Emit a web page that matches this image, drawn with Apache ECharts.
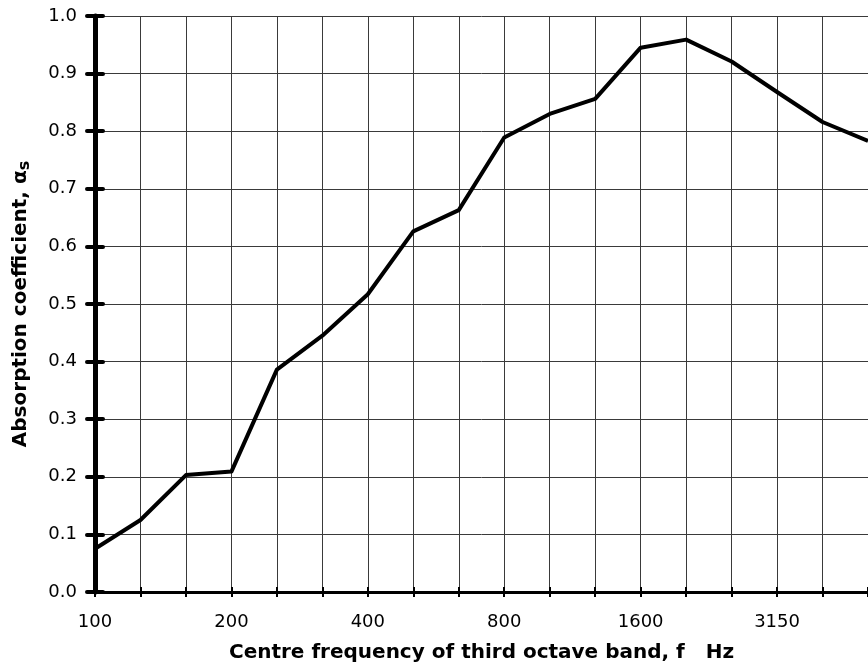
<!DOCTYPE html>
<html>
<head>
<meta charset="utf-8">
<script src="https://cdn.jsdelivr.net/npm/echarts@6/dist/echarts.min.js"></script>
<style>
html, body { margin: 0; padding: 0; background: #fff; }
#chart { width: 868px; height: 668px; }
</style>
</head>
<body>
<div id="chart"></div>
<script>
// third octave band centre frequencies
var bands = ['100', '125', '160', '200', '250', '315', '400', '500', '630', '800',
	'1000', '1250', '1600', '2000', '2500', '3150', '4000', '5000'];
// absorption coefficient per band
var alphaS = [0.075, 0.125, 0.203, 0.209, 0.386, 0.445, 0.517, 0.626, 0.663, 0.789,
	0.830, 0.856, 0.945, 0.959, 0.921, 0.868, 0.816, 0.783];

var font = 'DejaVu Sans';

var chart = echarts.init(document.getElementById('chart'));

var gridLine = { show: true, lineStyle: { color: '#3a3a3a', width: 1 } };

chart.setOption({
	backgroundColor: '#fff',
	animation: false,
	grid: { left: 95, right: -8, top: 16, bottom: 75 },
	xAxis: [
		{
			type: 'category',
			data: bands,
			boundaryGap: false,
			axisLine: { lineStyle: { color: '#000', width: 3 } },
			axisTick: { show: true, length: 5, interval: 0, lineStyle: { color: '#000', width: 2 } },
			axisLabel: {
				interval: 2, margin: 21, color: '#000',
				fontFamily: font, fontSize: 18
			},
			splitLine: mix(gridLine, { interval: 0 }),
			name: 'Centre frequency of third octave band, f   Hz',
			nameLocation: 'middle',
			nameGap: 51,
			nameTextStyle: { fontFamily: font, fontSize: 20, fontWeight: 'bold', color: '#000' }
		},
		{
			// second copy only for the inner half of the ticks
			type: 'category',
			data: bands,
			position: 'bottom',
			boundaryGap: false,
			axisLine: { show: false },
			axisTick: { show: true, inside: true, length: 5, interval: 0, lineStyle: { color: '#000', width: 2 } },
			axisLabel: { show: false },
			splitLine: { show: false }
		}
	],
	yAxis: [
		{
			type: 'value',
			min: 0,
			max: 1,
			interval: 0.1,
			axisLine: { show: true, lineStyle: { color: '#000', width: 5 } },
			axisTick: { show: true, length: 8, lineStyle: { color: '#000', width: 4, cap: 'round' } },
			axisLabel: {
				margin: 18, color: '#000', fontFamily: font, fontSize: 18,
				formatter: function(v){ return v.toFixed(1); }
			},
			splitLine: gridLine,
			name: '{a|Absorption coefficient, α}{b|s}',
			nameLocation: 'middle',
			nameGap: 62,
			nameTextStyle: {
				rich: {
					a: { fontFamily: font, fontSize: 20, fontWeight: 'bold', color: '#000', lineHeight: 24 },
					b: { fontFamily: font, fontSize: 16, fontWeight: 'bold', color: '#000', lineHeight: 16, verticalAlign: 'bottom' }
				}
			}
		},
		{
			type: 'value',
			min: 0,
			max: 1,
			interval: 0.1,
			position: 'left',
			axisLine: { show: false },
			axisTick: { show: true, inside: true, length: 8, lineStyle: { color: '#000', width: 4, cap: 'round' } },
			axisLabel: { show: false },
			splitLine: { show: false }
		}
	],
	series: [
		{
			type: 'line',
			data: alphaS,
			symbol: 'none',
			lineStyle: { color: '#000', width: 4, join: 'round' }
		}
	]
});

function mix(base, child){
	var o = {};
	for(var key in base){ o[key] = base[key]; }
	for(var key in child){ o[key] = child[key]; }
	return o;
}
</script>
</body>
</html>
